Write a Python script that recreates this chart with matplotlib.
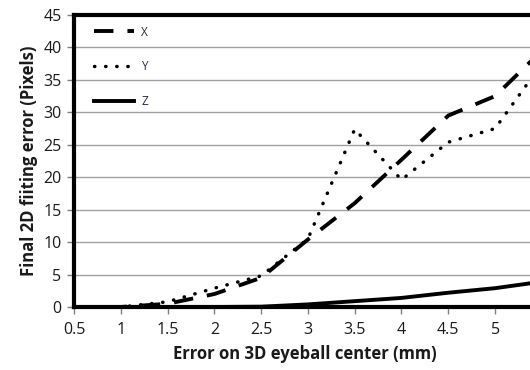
import matplotlib
matplotlib.use("Agg")
import matplotlib.pyplot as plt

# Error on 3D eyeball centre (mm)
center_error = [0.5, 1.0, 1.5, 2.0, 2.5, 3.0, 3.5, 4.0, 4.5, 5.0, 5.5]
# Final 2D fitting error (pixels) per axis
err_x = [0.0, 0.0, 0.5, 2.0, 4.5, 10.4, 16.0, 22.7, 29.5, 32.5, 39.5]
err_y = [0.0, 0.0, 0.8, 2.9, 4.8, 10.5, 27.4, 19.6, 25.4, 27.5, 37.5]
err_z = [0.0, 0.0, 0.0, 0.0, 0.05, 0.4, 0.9, 1.4, 2.2, 2.9, 3.9]

x_ticks = [0.5, 1, 1.5, 2, 2.5, 3, 3.5, 4, 4.5, 5]
x_tick_labels = ["0.5", "1", "1.5", "2", "2.5", "3", "3.5", "4", "4.5", "5"]
y_ticks = [0, 5, 10, 15, 20, 25, 30, 35, 40, 45]

plt.rcParams['font.family'] = ['Open Sans', 'DejaVu Sans']
text_color = '#1a1a1a'

fig = plt.figure(figsize=(5.3, 3.7), dpi=100)
ax = fig.add_axes([74 / 530, 1 - 307 / 370, 1 - 74 / 530 + 0.01, (307 - 15) / 370])

ax.plot(center_error, err_x, color='black', lw=2.8, linestyle=(0, (5, 3.6)),
        label='X', dash_capstyle='butt')
ax.plot(center_error, err_y, color='black', lw=2.5, linestyle=(0, (0.1, 3.1)),
        label='Y', dash_capstyle='round')
ax.plot(center_error, err_z, color='black', lw=2.8, linestyle='-', label='Z')

ax.set_xlim(0.5, 5.43)
ax.set_ylim(0, 45)
ax.set_xticks(x_ticks)
ax.set_xticklabels(x_tick_labels)
ax.set_yticks(y_ticks)

ax.yaxis.grid(True, color='#a0a0a0', lw=1.0)
ax.set_axisbelow(True)

for side in ['left', 'top', 'bottom']:
    ax.spines[side].set_linewidth(3)
    ax.spines[side].set_color('black')
ax.spines['right'].set_visible(False)

ax.tick_params(axis='both', direction='out', length=5, width=1, color='#808080',
               labelsize=11.5, labelcolor=text_color, pad=4)
ax.tick_params(axis='x', pad=6)

ax.set_xlabel('Error on 3D eyeball center (mm)', fontsize=12, fontweight='bold',
              color=text_color, labelpad=5)
ax.set_ylabel('Final 2D fiiting error (Pixels)', fontsize=12, fontweight='bold',
              color=text_color, labelpad=4)

leg = ax.legend(loc='upper left', frameon=False, fontsize=8.5, handlelength=3.4,
                handletextpad=0.6, labelspacing=1.85, borderaxespad=0.5,
                bbox_to_anchor=(0.02, 1.0))
for t in leg.get_texts():
    t.set_color('#2a2a40')

fig.savefig('out.png', dpi=100)
